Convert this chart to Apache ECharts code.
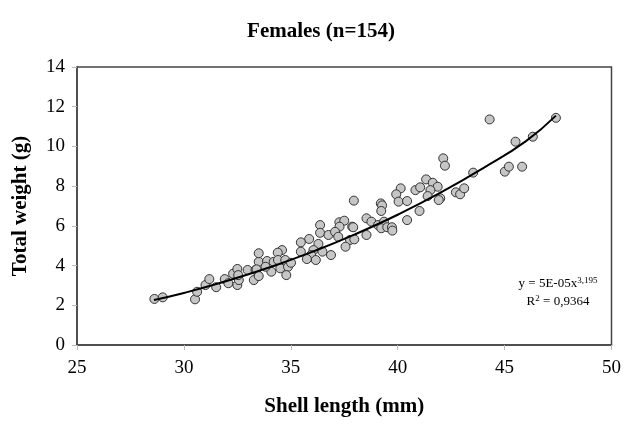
<!DOCTYPE html>
<html>
<head>
<meta charset="utf-8">
<script src="https://cdn.jsdelivr.net/npm/echarts@6/dist/echarts.min.js"></script>
<style>
  html, body { margin: 0; padding: 0; background: #fff; }
  #chart { width: 624px; height: 427px; }
</style>
</head>
<body>
<div id="chart"></div>
<script>
// shell length (mm) and total weight (g) of each female
var shellLength = [
    28.62, 29.01, 30.52, 30.62, 31.01, 31.19, 31.51, 31.91, 32.08, 32.30,
    32.50, 32.50, 32.57, 32.54, 32.98, 33.27, 33.35, 33.50, 33.50, 37.95,
    38.54, 38.54, 36.37, 36.37, 37.27, 37.50, 37.28, 37.87, 36.76, 37.07,
    37.22, 37.77, 37.97, 37.56, 36.88, 35.86, 35.47, 36.29, 36.06, 36.48,
    35.95, 36.17, 35.75, 35.47, 34.59, 34.39, 33.89, 34.20, 34.40, 34.51,
    34.74, 34.87, 35.01, 34.79, 34.09, 33.82, 33.40, 33.50, 42.13, 42.21,
    43.53, 39.21, 39.27, 39.23, 40.14, 39.93, 40.04, 40.44, 40.83, 41.05,
    41.33, 41.64, 41.87, 41.53, 41.40, 41.99, 41.92, 42.72, 42.92, 43.11,
    41.02, 40.44, 38.77, 39.08, 39.36, 39.23, 39.51, 39.73, 39.75, 37.92,
    44.30, 47.40, 46.32, 45.51, 45.01, 45.20, 45.82
];
var totalWeight = [
    2.32, 2.40, 2.30, 2.68, 3.02, 3.32, 2.91, 3.32, 3.11, 3.59,
    3.83, 3.02, 3.27, 3.52, 3.78, 3.27, 3.78, 4.19, 4.62, 7.27,
    6.38, 5.54, 6.04, 5.65, 6.18, 6.26, 5.96, 5.96, 5.54, 5.70,
    5.45, 5.29, 5.32, 4.95, 4.53, 5.34, 5.17, 5.09, 4.78, 4.70,
    4.53, 4.28, 4.33, 4.70, 4.78, 4.65, 4.23, 4.19, 4.28, 3.86,
    4.28, 3.94, 4.14, 3.52, 3.69, 3.94, 3.81, 3.47, 9.40, 9.03,
    8.68, 7.13, 7.03, 6.75, 7.89, 7.59, 7.22, 7.25, 7.80, 7.94,
    8.34, 8.17, 7.97, 7.80, 7.50, 7.39, 7.30, 7.69, 7.59, 7.89,
    6.75, 6.29, 6.21, 6.04, 6.21, 5.88, 5.93, 5.93, 5.76, 5.93,
    11.36, 11.44, 10.49, 10.24, 8.73, 8.98, 8.98
];

// power trendline, points
var trendX = [28.6, 30, 32, 34, 36, 38, 40, 42, 44, 46, 47.4];
var trendY = [2.27, 2.62, 3.22, 3.91, 4.69, 5.57, 6.56, 7.67, 8.91, 10.27, 11.55];

var xTicks = [25, 30, 35, 40, 45, 50];
var yTicks = [0, 2, 4, 6, 8, 10, 12, 14];

var points = shellLength.map(function (x, i) { return [x, totalWeight[i]]; });
var trend = trendX.map(function (x, i) { return [x, trendY[i]]; });

var serif = '"Liberation Serif", "DejaVu Serif", serif';
var eqRich = {
    a: { fontFamily: serif, fontSize: 13, color: '#000' },
    s: { fontFamily: serif, fontSize: 9, color: '#000', verticalAlign: 'top', padding: [0, 0, 6, 0] }
};

var option = {
    backgroundColor: '#fff',
    animation: false,
    textStyle: { fontFamily: serif },
    title: {
        text: 'Females (n=154)',
        left: 316,
        textAlign: 'center',
        top: 16,
        textStyle: { fontFamily: serif, fontSize: 21, fontWeight: 'bold', color: '#000' }
    },
    grid: {
        left: 77, right: 9, top: 67, bottom: 82,
        show: true, borderColor: '#444', borderWidth: 1.5, backgroundColor: '#fff'
    },
    xAxis: {
        type: 'value',
        min: xTicks[0], max: xTicks[xTicks.length - 1], interval: 5,
        name: 'Shell length (mm)',
        nameLocation: 'middle',
        nameGap: 51,
        nameTextStyle: { fontFamily: serif, fontSize: 21, fontWeight: 'bold', color: '#000' },
        axisLine: { lineStyle: { color: '#444', width: 1.5 } },
        axisTick: { show: true, length: 5, lineStyle: { color: '#bbb' } },
        axisLabel: { fontFamily: serif, fontSize: 19, color: '#000', margin: 14 },
        splitLine: { show: false }
    },
    yAxis: {
        type: 'value',
        min: yTicks[0], max: yTicks[yTicks.length - 1], interval: 2,
        name: 'Total weight (g)',
        nameLocation: 'middle',
        nameGap: 46,
        nameTextStyle: { fontFamily: serif, fontSize: 21, fontWeight: 'bold', color: '#000' },
        axisLine: { lineStyle: { color: '#444', width: 1.5 } },
        axisTick: { show: true, length: 5, lineStyle: { color: '#bbb' } },
        axisLabel: { fontFamily: serif, fontSize: 19, color: '#000', margin: 12 },
        splitLine: { show: false }
    },
    graphic: [{
        type: 'text',
        x: 558,
        y: 284,
        style: {
            text: '{a|y = 5E-05x}{s|3,195}',
            align: 'center',
            verticalAlign: 'middle',
            rich: eqRich
        }
    }, {
        type: 'text',
        x: 558,
        y: 302,
        style: {
            text: '{a|R}{s|2}{a| = 0,9364}',
            align: 'center',
            verticalAlign: 'middle',
            rich: eqRich
        }
    }],
    series: [{
        type: 'scatter',
        data: points,
        symbolSize: 9,
        itemStyle: { color: '#c6c6c6', borderColor: '#333', borderWidth: 1, opacity: 1 },
        z: 2
    }, {
        type: 'line',
        data: trend,
        smooth: true,
        showSymbol: false,
        lineStyle: { color: '#000', width: 2 },
        z: 3
    }]
};

var chart = echarts.init(document.getElementById('chart'));
chart.setOption(option);
</script>
</body>
</html>
